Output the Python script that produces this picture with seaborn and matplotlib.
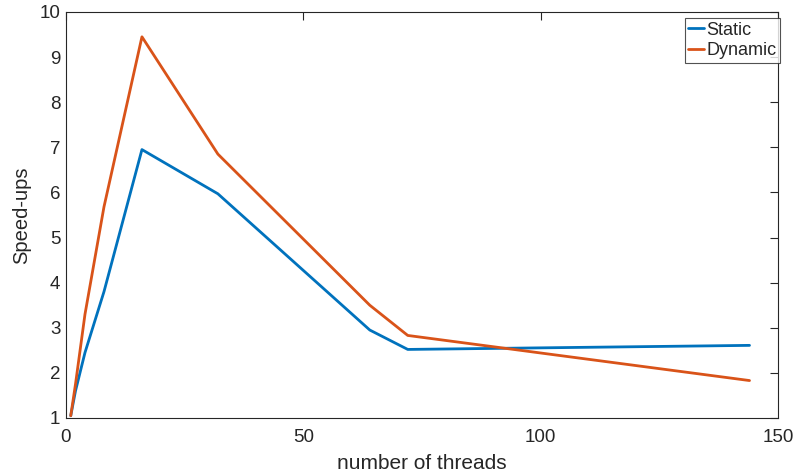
import matplotlib
matplotlib.use("Agg")
import matplotlib.pyplot as plt
import seaborn as sns
import pandas as pd

threads = [1, 2, 4, 8, 16, 32, 64, 72, 144]
static = [1.05, 1.6, 2.45, 3.8, 6.95, 5.97, 2.95, 2.52, 2.61]
dynamic = [1.05, 1.75, 3.3, 5.68, 9.45, 6.85, 3.5, 2.83, 1.83]
series_names = ["Static", "Dynamic"]
x_ticks = [0, 50, 100, 150]
y_ticks = list(range(1, 11))

sns.set_style("white")
plt.rcParams['font.family'] = ['Liberation Sans', 'DejaVu Sans']

df = pd.DataFrame({
    "threads": threads * 2,
    "speedup": static + dynamic,
    "kind": [series_names[0]] * len(threads) + [series_names[1]] * len(threads),
})

fig = plt.figure(figsize=(8.04, 4.75), dpi=100)
ax = fig.add_axes([66/804, 1 - 418/475, (778 - 66)/804, (418 - 12)/475])
sns.lineplot(data=df, x="threads", y="speedup", hue="kind",
             palette=["#0072BD", "#D95319"], linewidth=2, ax=ax,
             sort=False, estimator=None)

ax.set_xlim(0, 150)
ax.set_ylim(1, 10)
ax.set_xticks(x_ticks)
ax.set_yticks(y_ticks)
ax.tick_params(direction="in", length=6, width=0.8, top=True, right=True,
               labelsize=13.5, colors="#262626")
ax.tick_params(axis="x", pad=8)
ax.tick_params(axis="y", pad=4)
for s in ax.spines.values():
    s.set_color("#262626")
    s.set_linewidth(0.8)
ax.set_xlabel("number of threads", fontsize=15, color="#262626", labelpad=6)
ax.set_ylabel("Speed-ups", fontsize=14.5, color="#262626", labelpad=6)

leg = ax.legend(loc="upper right", bbox_to_anchor=(1.003, 0.985),
                fontsize=13, frameon=True, fancybox=False,
                edgecolor="#262626", handlelength=0.85, handletextpad=0.15,
                borderpad=0.2, labelspacing=0.2, borderaxespad=0)
leg.get_frame().set_linewidth(0.8)

fig.savefig("out.png", dpi=100)
